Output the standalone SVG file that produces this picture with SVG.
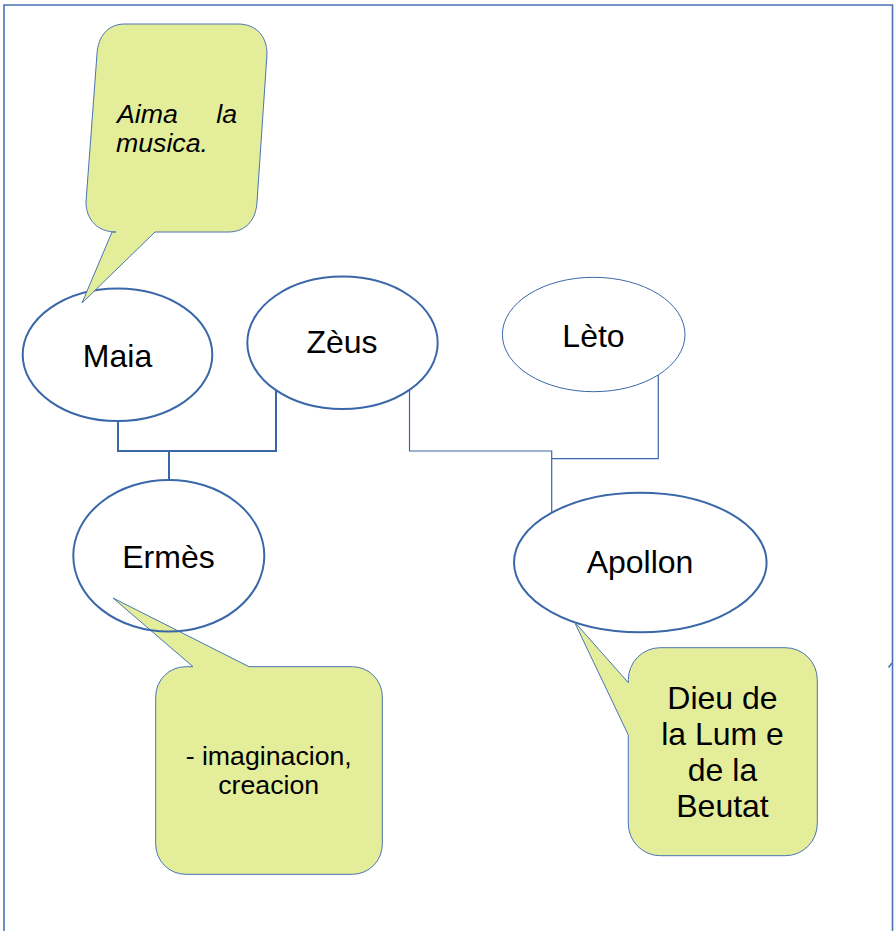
<svg xmlns="http://www.w3.org/2000/svg" width="894" height="931" viewBox="0 0 894 931">
<style>
  .node { fill: none; stroke: #3a67a8; stroke-width: 2; }
  .node-thin { fill: none; stroke: #3a67a8; stroke-width: 1; }
  .label { font-family: "Liberation Sans", Arial, sans-serif; font-size: 32px; fill: #000; text-anchor: middle; }
  .note { fill: #e4ee9a; stroke: #4a74b4; stroke-width: 1; stroke-linejoin: round; }
  .note-text { font-family: "Liberation Sans", Arial, sans-serif; font-size: 26.7px; fill: #000; }
  .conn { fill: none; stroke: #3a67a8; stroke-width: 2; }
  .conn-thin { fill: none; stroke: #3a67a8; stroke-width: 1.2; }
  .frame { fill: none; stroke: #4a72b8; stroke-width: 1.6; }
</style>
<rect x="0" y="0" width="894" height="931" fill="#ffffff"/>
<path class="frame" d="M4,940 V5 H892.5 V940"/>
<path class="frame" d="M888.5,667.5 L892,663" stroke-width="1.2"/>

<g id="connectors">
  <path class="conn" d="M118,421 V451 H276 V390.7"/>
  <path class="conn" d="M169,451 V480"/>
  <path class="conn-thin" d="M409.5,391 V451 H551.7 V513"/>
  <path class="conn-thin" d="M658.3,375 V458.7 H551.7"/>
</g>

<g id="note-ermes">
  <path class="note" d="M185.7,666.7 L193,666.7 L113,598 L249,666.7 L352.3,666.7 A30,30 0 0 1 382.3,696.7 L382.3,844.3 A30,30 0 0 1 352.3,874.3 L185.7,874.3 A30,30 0 0 1 155.7,844.3 L155.7,696.7 A30,30 0 0 1 185.7,666.7 Z"/>
  <text class="note-text" text-anchor="middle" x="268.7" y="765">- imaginacion,</text>
  <text class="note-text" text-anchor="middle" x="268.7" y="794">creacion</text>
</g>

<g id="node-maia">
  <ellipse class="node" cx="117.5" cy="354.7" rx="94.8" ry="66.3"/>
  <text class="label" x="117.5" y="366.7">Maia</text>
</g>
<g id="node-zeus">
  <ellipse class="node" cx="342.5" cy="342.8" rx="95.2" ry="66.2"/>
  <text class="label" x="342" y="353.3">Zèus</text>
</g>
<g id="node-leto">
  <ellipse class="node-thin" cx="593.7" cy="334.5" rx="91.3" ry="57.2"/>
  <text class="label" x="593.5" y="347">Lèto</text>
</g>
<g id="node-ermes">
  <ellipse class="node" cx="168.8" cy="555.8" rx="95.5" ry="75.8"/>
  <text class="label" x="168.5" y="568">Ermès</text>
</g>
<g id="node-apollon">
  <ellipse class="node" cx="640.3" cy="562.5" rx="126.3" ry="69.8"/>
  <text class="label" x="640" y="572.7">Apollon</text>
</g>

<g id="note-maia">
  <path class="note" d="M125,24 L238,24 C256,24 267,36 267,54 L257,202 C256,220 246,232 228,232 L155,232 L82,303 L112,232 L116,232 C98,232 86,220 86,202 L97,54 C98,36 108,24 125,24 Z"/>
  <text class="note-text" font-style="italic" x="117" y="122.7">Aima</text>
  <text class="note-text" font-style="italic" text-anchor="end" x="237" y="122.7">la</text>
  <text class="note-text" font-style="italic" x="116" y="151.7">musica.</text>
</g>

<g id="note-apollon">
  <path class="note" d="M660.3,647.7 L785.3,647.7 A32,32 0 0 1 817.3,679.7 L817.3,823.7 A32,32 0 0 1 785.3,855.7 L660.3,855.7 A32,32 0 0 1 628.3,823.7 L628.3,735 L574.3,621.7 L628.3,682.7 L628.3,679.7 A32,32 0 0 1 660.3,647.7 Z"/>
  <text class="label" x="722.5" y="709">Dieu de</text>
  <text class="label" x="722.5" y="745">la Lum e</text>
  <text class="label" x="722.5" y="781">de la</text>
  <text class="label" x="722.5" y="816.7">Beutat</text>
</g>
</svg>
